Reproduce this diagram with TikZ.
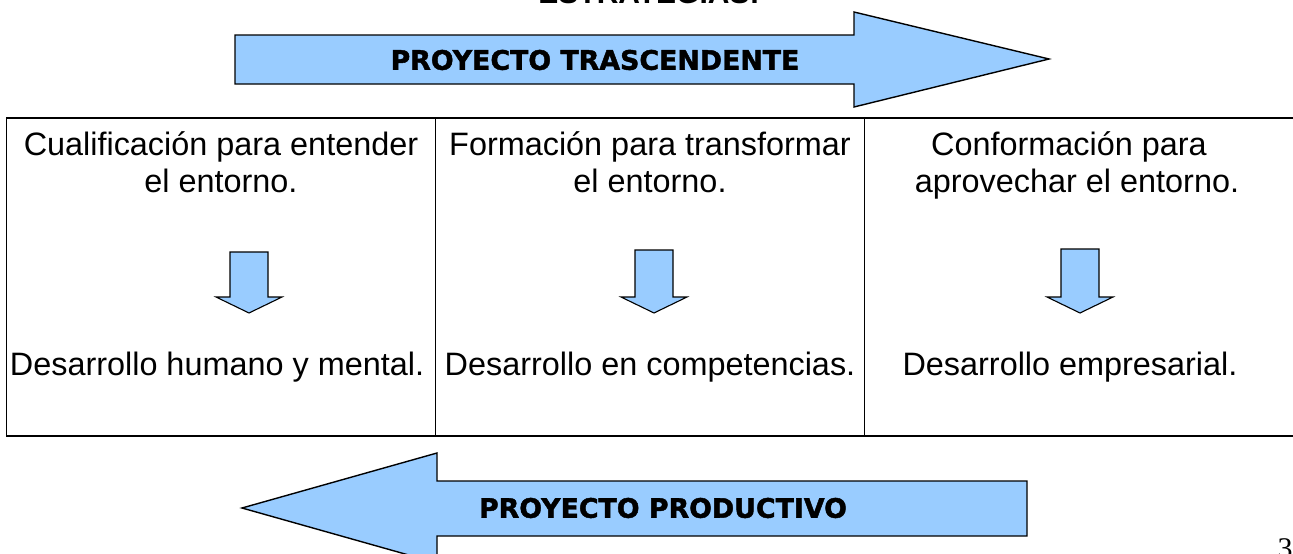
\documentclass[tikz,border=0pt]{standalone}
\usepackage{fontspec}
\setmainfont{Liberation Sans}
\newfontfamily\heavyfont{DejaVu Sans Bold}[FakeBold=1.6]
\newfontfamily\serifnum{Liberation Serif}
\definecolor{arrowblue}{HTML}{99CCFF}
\begin{document}
\begin{tikzpicture}[x=1pt,y=-1pt,
  bigarrow/.style={draw=black,line width=1.4pt,fill=arrowblue,line join=miter},
  smallarrow/.style={draw=black,line width=1.1pt,fill=arrowblue,line join=miter},
  tableline/.style={draw=black,line width=1.1pt},
  celltext/.style={font=\fontsize{32.4}{37}\selectfont,anchor=base,inner sep=0pt},
  banner/.style={font=\heavyfont\fontsize{26.8}{30}\selectfont,inner sep=0pt},
  titletext/.style={font=\bfseries\fontsize{30}{34}\selectfont,anchor=base,inner sep=0pt}]
\useasboundingbox (0,0) rectangle (1293,554);
\clip (0,0) rectangle (1293,554);

% title (cut off at the top)
\node[titletext] (title) at (649,4) {ESTRATEGIAS:};

% top arrow
\draw[bigarrow] (235,35) -- (854,35) -- (854,12) -- (1049,59) -- (854,107) -- (854,84) -- (235,84) -- cycle;
\node[banner] (trasc) at (595,60) {PROYECTO TRASCENDENTE};

% table
\coordinate (tl) at (6.5,118);
\coordinate (bl) at (6.5,436);
\coordinate (tr) at (1300,118);
\coordinate (br) at (1300,436);
\draw[tableline] (tr) -- (tl) -- (bl) -- (br);
\draw[tableline] (435.5,118) -- (435.5,436);
\draw[tableline] (864.5,118) -- (864.5,436);

% column 1
\node[celltext] (c1a) at (221,155) {Cualificación para entender};
\node[celltext] (c1b) at (221,192) {el entorno.};
\node[celltext] (c1c) at (217,375) {Desarrollo humano y mental.};
% column 2
\node[celltext] (c2a) at (650,155) {Formación para transformar};
\node[celltext] (c2b) at (650,192) {el entorno.};
\node[celltext] (c2c) at (650,375) {Desarrollo en competencias.};
% column 3
\node[celltext] (c3a) at (1069,155) {Conformación para};
\node[celltext] (c3b) at (1077,192) {aprovechar el entorno.};
\node[celltext] (c3c) at (1070,375) {Desarrollo empresarial.};

% small down arrows
\foreach \cx/\ty in {249/252, 654/250, 1080/249}{
  \draw[smallarrow] (\cx-19,\ty) -- (\cx+19,\ty) -- (\cx+19,297) -- (\cx+33,297)
     -- (\cx,313) -- (\cx-33,297) -- (\cx-19,297) -- cycle;
}

% bottom arrow
\draw[bigarrow] (242,508) -- (437,453) -- (437,481) -- (1027,481) -- (1027,536) -- (437,536) -- (437,563) -- cycle;
\node[banner] (prod) at (663,508) {PROYECTO PRODUCTIVO};

% page number (cut off)
\node[font=\serifnum\fontsize{30}{34}\selectfont,anchor=base,inner sep=0pt] (pnum) at (1285,558) {3};
\end{tikzpicture}
\end{document}
